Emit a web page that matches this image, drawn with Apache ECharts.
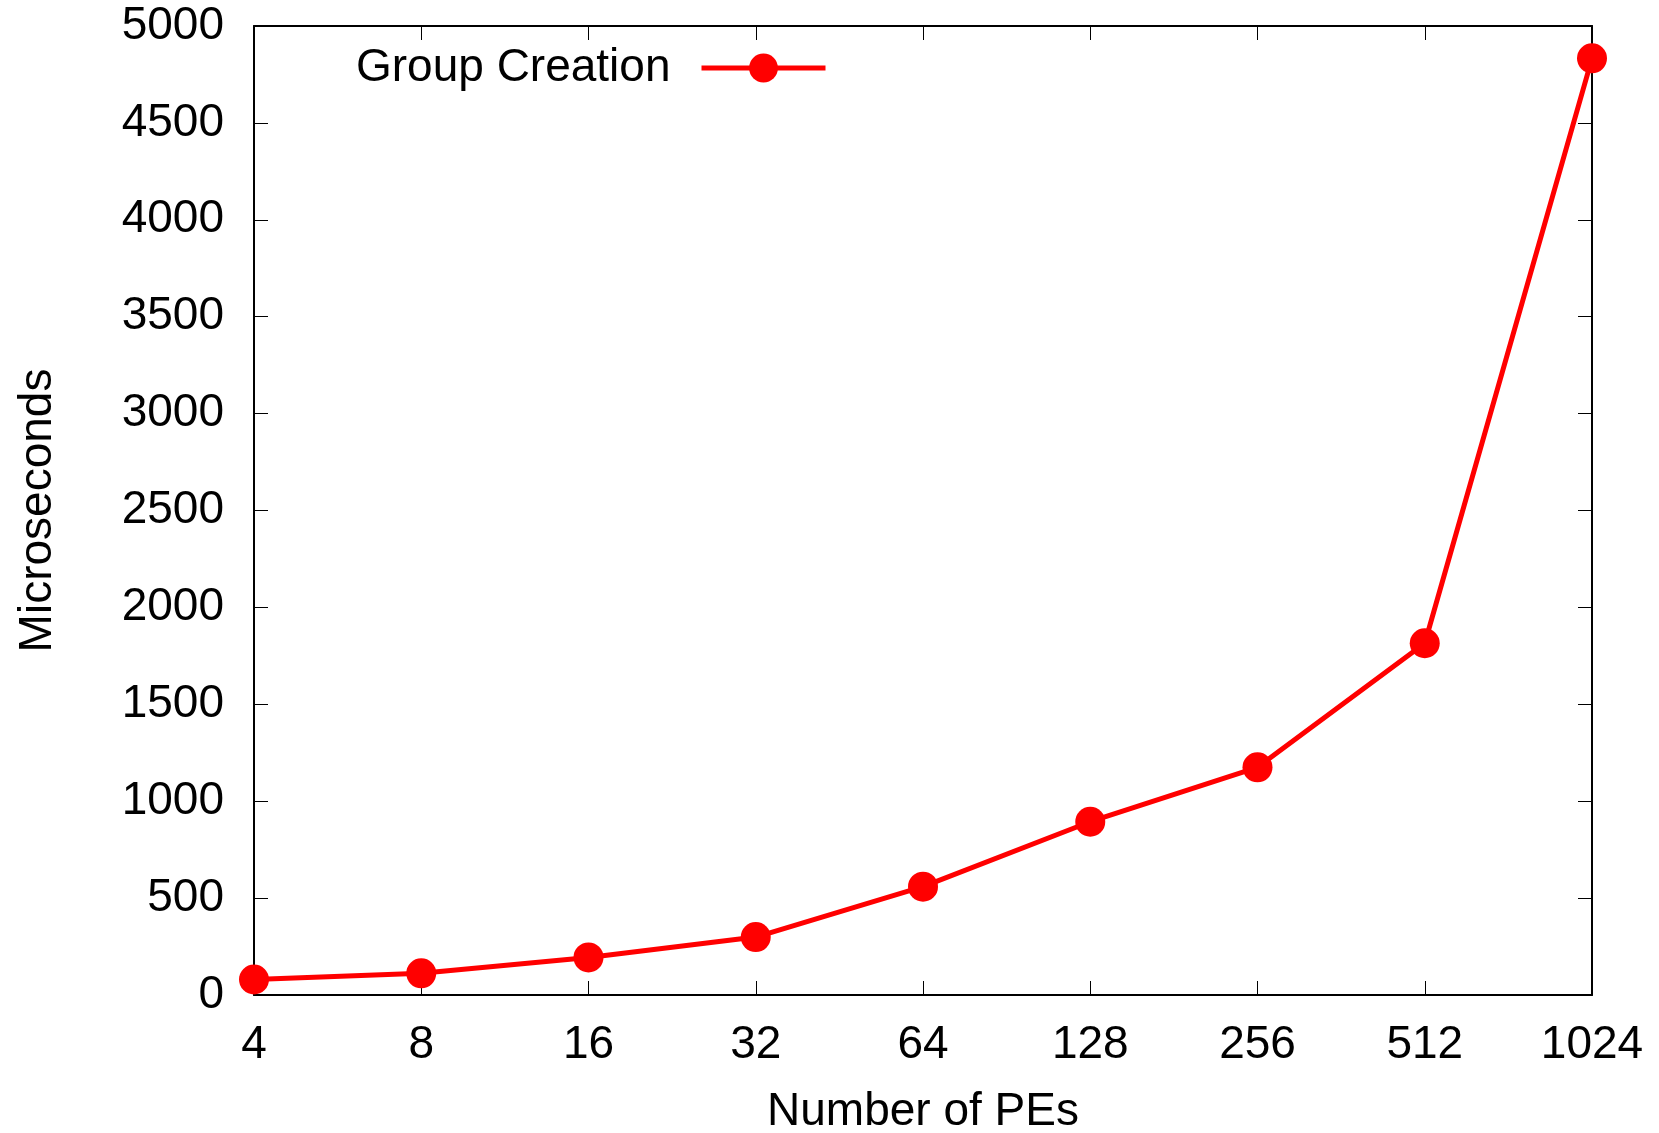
<!DOCTYPE html>
<html>
<head>
<meta charset="utf-8">
<script src="https://cdn.jsdelivr.net/npm/echarts@6/dist/echarts.min.js"></script>
<style>
html,body{margin:0;padding:0;background:#fff;}
#main{width:1659px;height:1133px;}
</style>
</head>
<body>
<div id="main"></div>
<script>
const categories = ['4','8','16','32','64','128','256','512','1024'];
const groupCreation = [80, 112, 194, 299, 559, 894, 1175, 1815, 4833];
const yTicks = [0,500,1000,1500,2000,2500,3000,3500,4000,4500,5000];

const FONT = '"Liberation Sans", Arial, sans-serif';
const chart = echarts.init(document.getElementById('main'));
const axisLine = {show:true, onZero:false, lineStyle:{color:'#000', width:2}};
const tick = {show:true, inside:true, length:14, lineStyle:{color:'#000', width:1}};
chart.setOption({
  animation:false,
  backgroundColor:'#fff',
  grid:{left:254, top:26, right:67, bottom:138, containLabel:false, outerBoundsMode:'none'},
  legend:{
    show:true, left:351, top:40, align:'right',
    itemWidth:124, itemHeight:36, itemGap:10,
    lineStyle:{width:5, color:'#ff0000'},
    textStyle:{fontFamily:FONT, fontSize:46, color:'#000', padding:[0,26,0,0]},
    data:[{name:'Group Creation'}]
  },
  xAxis:[{
    type:'category', data:categories, boundaryGap:false, position:'bottom',
    name:'Number of PEs', nameLocation:'middle', nameGap:94,
    nameTextStyle:{fontFamily:FONT, fontSize:46, color:'#000'},
    axisLine:axisLine, axisTick:tick,
    axisLabel:{fontFamily:FONT, fontSize:46, color:'#000', margin:27},
    splitLine:{show:false}
  },{
    type:'category', data:categories, boundaryGap:false, position:'top',
    axisLine:axisLine, axisTick:tick, axisLabel:{show:false}, splitLine:{show:false}
  }],
  yAxis:[{
    type:'value', min:0, max:5000, interval:500, position:'left',
    name:'Microseconds', nameLocation:'middle', nameGap:193, nameRotate:90,
    nameTextStyle:{fontFamily:FONT, fontSize:46, color:'#000'},
    axisLine:axisLine, axisTick:tick,
    axisLabel:{fontFamily:FONT, fontSize:46, color:'#000', margin:30,
      formatter:function(v){return yTicks.indexOf(v)>=0 ? String(v) : '';}},
    splitLine:{show:false}
  },{
    type:'value', min:0, max:5000, interval:500, position:'right',
    axisLine:axisLine, axisTick:tick, axisLabel:{show:false}, splitLine:{show:false}
  }],
  series:[{
    name:'Group Creation', type:'line', data:groupCreation,
    xAxisIndex:0, yAxisIndex:0,
    symbol:'circle', symbolSize:30, showAllSymbol:true,
    lineStyle:{color:'#ff0000', width:5},
    itemStyle:{color:'#ff0000'},
    clip:false, z:5
  }]
});
</script>
</body>
</html>
